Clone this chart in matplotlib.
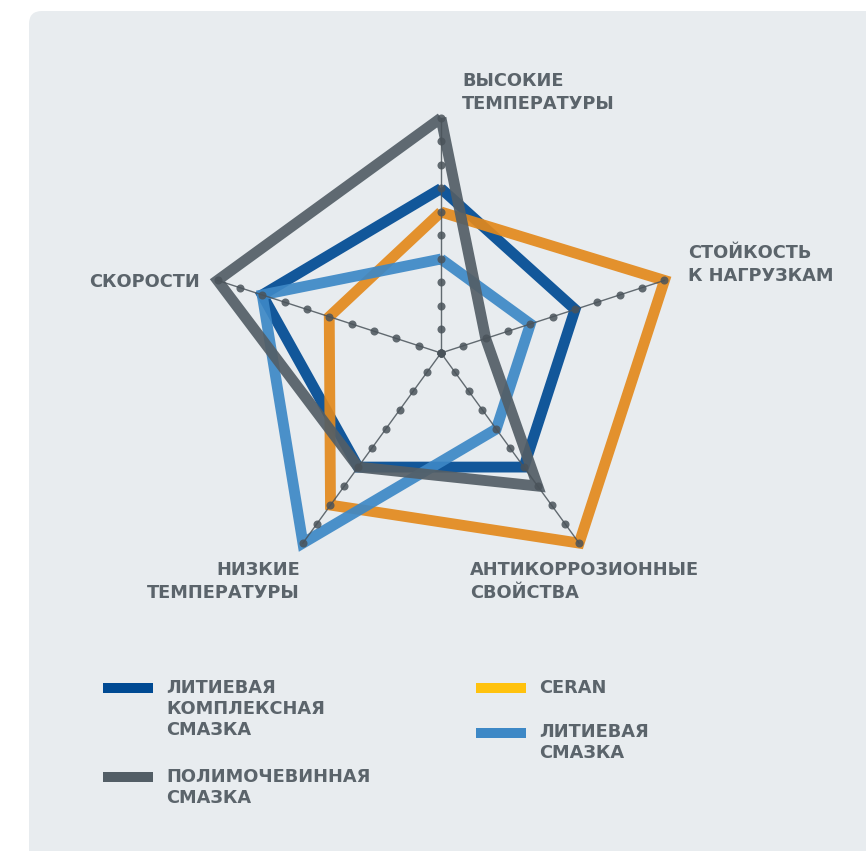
import numpy as np
import matplotlib
matplotlib.use("Agg")
import matplotlib.pyplot as plt
from matplotlib.patches import FancyBboxPatch

# axes of the radar, clockwise from the top
categories = ["ВЫСОКИЕ\nТЕМПЕРАТУРЫ", "СТОЙКОСТЬ\nК НАГРУЗКАМ", "АНТИКОРРОЗИОННЫЕ\nСВОЙСТВА",
              "НИЗКИЕ\nТЕМПЕРАТУРЫ", "СКОРОСТИ"]

# scores 0..10
lithium_complex = [7, 6, 6, 6, 8]
ceran = [6, 10, 10, 8, 5]
lithium = [4, 4, 4, 10, 8]
polyurea = [10, 2, 7, 6, 10]

series_names = ["ЛИТИЕВАЯ\nКОМПЛЕКСНАЯ\nСМАЗКА", "CERAN", "ЛИТИЕВАЯ\nСМАЗКА", "ПОЛИМОЧЕВИННАЯ\nСМАЗКА"]
series_values = [lithium_complex, ceran, lithium, polyurea]
line_colors = ["#004a93", "#e3891c", "#3d88c6", "#535e66"]
legend_colors = ["#004a93", "#ffc20e", "#3d88c6", "#535e66"]

bg_col = "#e8ecef"
txt_col = "#5b646b"
font = ["DejaVu Sans"]
fs = 12.8

W, H = 866, 851
fig = plt.figure(figsize=(W / 100, H / 100), dpi=100, facecolor="white")

# background panel in pixel coords
bg = fig.add_axes([0, 0, 1, 1], zorder=0)
bg.set_xlim(0, W)
bg.set_ylim(H, 0)
bg.axis("off")
bg.add_patch(FancyBboxPatch((29, 11), 900, 900, boxstyle="round,pad=0,rounding_size=13",
                            fc=bg_col, ec="none"))

# radar
cx, cy, R = 441, 353, 235
ax = fig.add_axes([(cx - R) / W, (H - cy - R) / H, 2 * R / W, 2 * R / H],
                  projection="polar", zorder=2)
ax.set_theta_offset(np.pi / 2)
ax.set_theta_direction(-1)
ax.set_ylim(0, 10)
ax.axis("off")
ax.patch.set_alpha(0)

n = len(categories)
theta = np.arange(n) * 2 * np.pi / n
theta_c = np.append(theta, theta[0])

order = [2, 1, 0, 3]  # light blue, ceran, lithium complex, polyurea
for i in order:
    vals = series_values[i]
    ax.plot(theta_c, vals + vals[:1], color=line_colors[i], lw=7.8, alpha=0.92,
            solid_joinstyle="miter", solid_capstyle="butt", clip_on=False, zorder=3 + i)

levels = np.arange(0, 11)
for t in theta:
    ax.plot([t] * len(levels), levels, color="#4a535a", lw=1.0, marker="o", ms=5.8,
            mec="none", alpha=0.85, clip_on=False, zorder=10)

# axis labels
label_pos = [(462, 72, "left"), (688, 244, "left"), (470, 561, "left"),
             (300, 561, "right"), (200, 273, "right")]
for (x, y, ha), lab in zip(label_pos, categories):
    bg.text(x, y, lab, ha=ha, va="top", multialignment=ha, family=font,
            fontsize=fs, fontweight="bold", color=txt_col, linespacing=1.34)

# legend
legend_pos = [(103, 688, 679), (476, 688, 679), (476, 733, 723), (103, 777, 768)]
for (x, ly, ty), name, col in zip(legend_pos, series_names, legend_colors):
    bg.plot([x, x + 50], [ly, ly], color=col, lw=7.2, solid_capstyle="butt")
    bg.text(x + 63, ty, name, ha="left", va="top", family=font, fontsize=fs,
            fontweight="bold", color=txt_col, linespacing=1.22)

fig.savefig("out.png", dpi=100, facecolor="white")
